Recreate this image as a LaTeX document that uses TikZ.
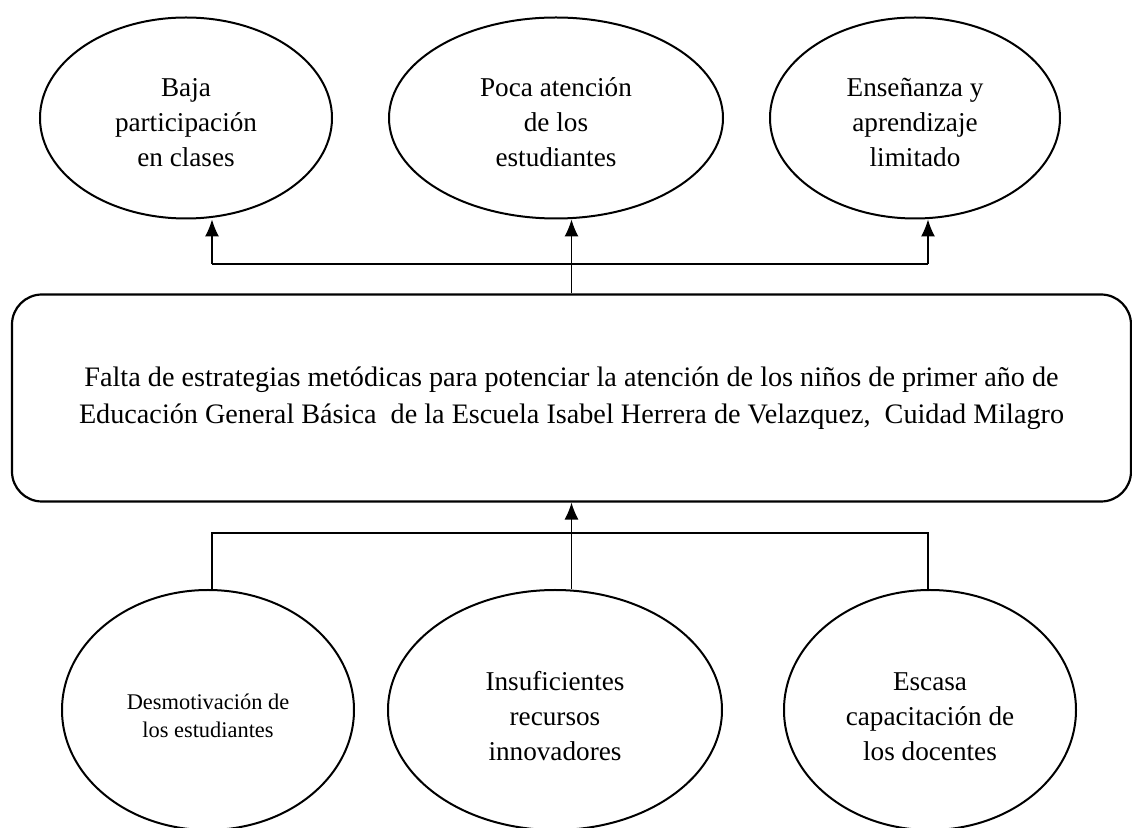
\documentclass[tikz,border=0pt]{standalone}
\usepackage{fontspec}
\setmainfont{Liberation Serif}
\usetikzlibrary{shapes.geometric,arrows.meta}

\begin{document}
\begin{tikzpicture}
          [x=0.5pt,y=-0.5pt,
          font=\fontsize{13.6}{17.5}\selectfont,
          oval/.style={shape=ellipse,draw=black,line width=1pt,inner sep=0pt,align=center,minimum width=146pt,minimum height=100.5pt},
          low/.style={oval,minimum height=120pt},
          box/.style={shape=rectangle,draw=black,line width=1.1pt,rounded corners=15pt,align=center,minimum width=559.5pt,minimum height=103.5pt,
            font=\fontsize{14.1}{18.5}\selectfont},
          arc/.style={-{Latex[length=8.5pt,width=7pt]},line width=0.6pt},
          edge/.style={line width=0.6pt}]

            \useasboundingbox (0,0) rectangle (1132,828);

            % efectos
            \node (1) [oval] at (186,118) {\rule{0pt}{14pt}Baja\\participación\\en clases};
            \node (2) [oval,minimum width=167pt] at (556,118) {\rule{0pt}{14pt}Poca atención\\de los\\estudiantes};
            \node (3) [oval,minimum width=145pt] at (915,118) {\rule{0pt}{14pt}Enseñanza y\\aprendizaje\\limitado};

            % problema
            \node (4) [box] at (571.5,398) {Falta de estrategias metódicas para potenciar la atención de los niños de primer año de\\
              Educación General Básica\ \ de la Escuela Isabel Herrera de Velazquez,\ \ Cuidad Milagro};

            % causas
            \node (5) [low,font=\fontsize{11.2}{14}\selectfont] at (208,710) {\rule{0pt}{13.8pt}Desmotivación de\\los estudiantes};
            \node (6) [low,minimum width=167pt] at (555,710) {\rule{0pt}{15.4pt}Insuficientes\\recursos\\innovadores};
            \node (7) [low] at (930,710) {\rule{0pt}{15.4pt}Escasa\\capacitación de\\los docentes};

            \coordinate (A1) at (212,264);
            \coordinate (A3) at (928,264);
            \coordinate (B1) at (212,533);
            \coordinate (B3) at (928,533);

          \draw [edge] (A1) -- (A3);
          \draw [arc] (A1) -- (A1 |- 1.south);
          \draw [arc] (4.north) -- (4.north |- 2.south);
          \draw [arc] (A3) -- (A3 |- 3.south);

          \draw [edge] (B1 |- 5.north) -- (B1) -- (B3) -- (B3 |- 7.north);
          \draw [arc] (4.south |- 6.north) -- (4.south);

        \end{tikzpicture}
\end{document}
